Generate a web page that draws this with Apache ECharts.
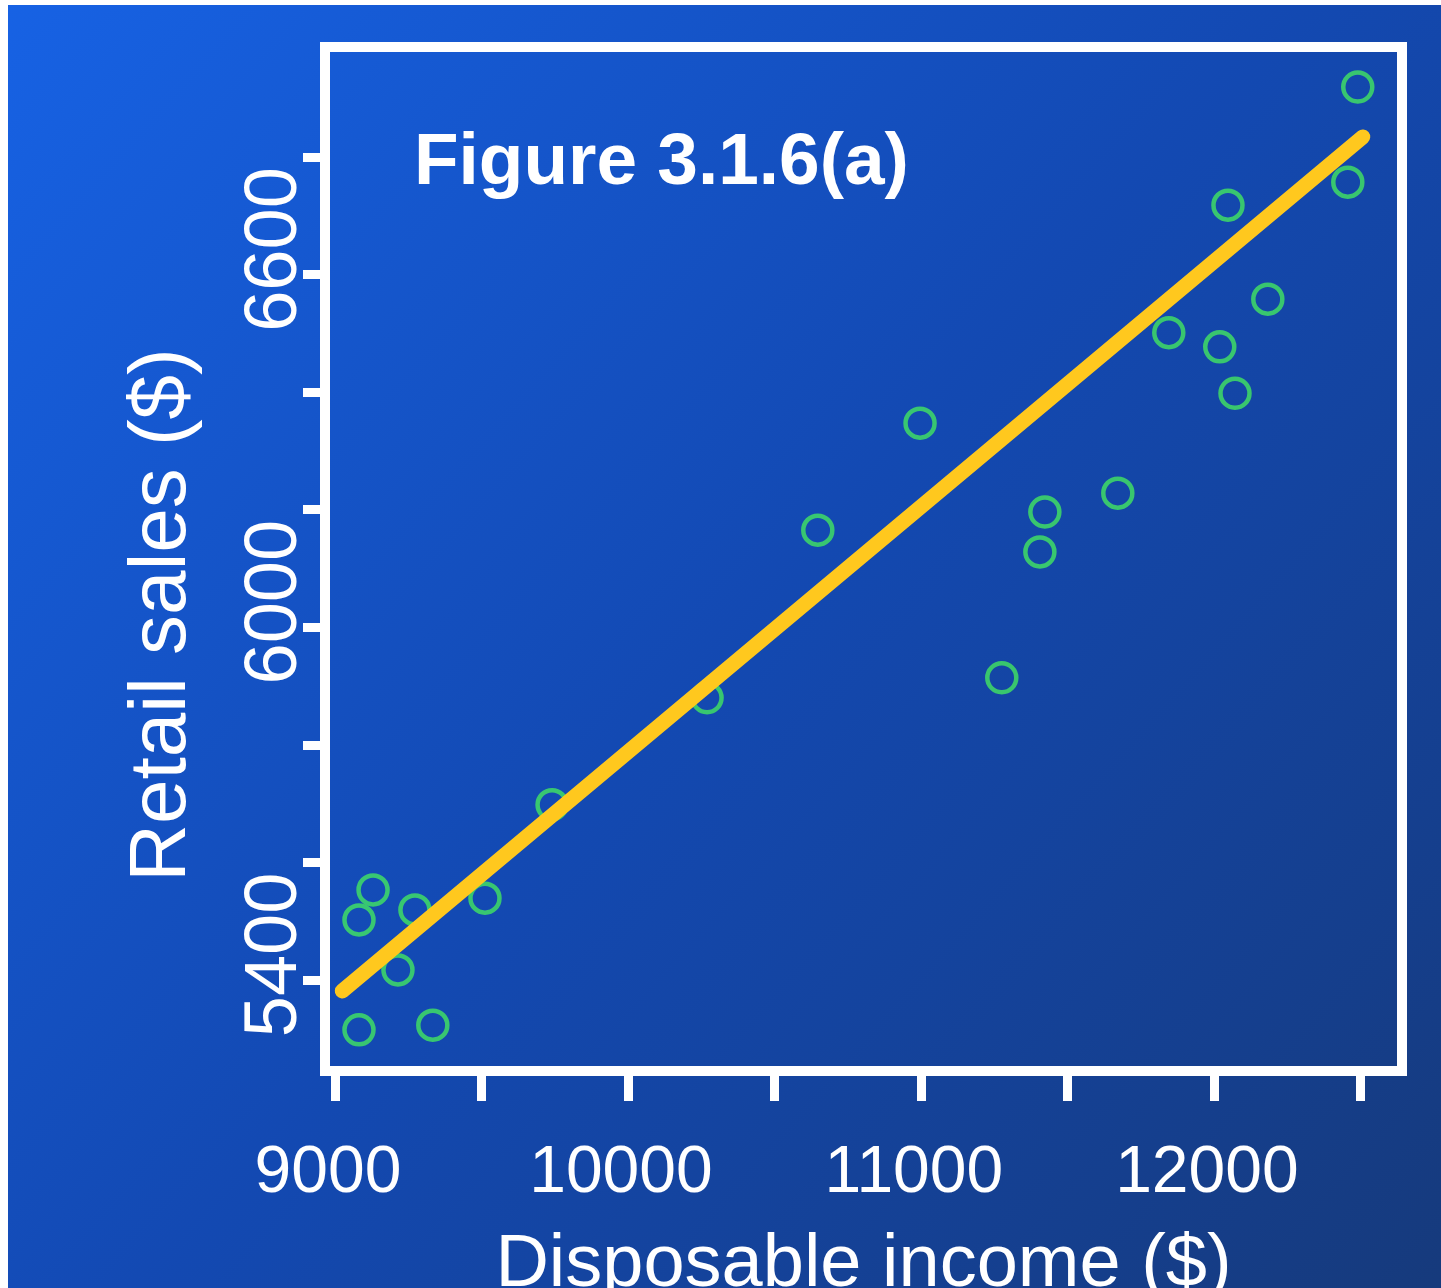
<!DOCTYPE html>
<html>
<head>
<meta charset="utf-8">
<script src="https://cdn.jsdelivr.net/npm/echarts@6/dist/echarts.min.js"></script>
<style>
  html, body { margin: 0; padding: 0; background: #ffffff; overflow: hidden; }
  #chart { position: absolute; left: 8px; top: 5px; width: 1433px; height: 1283px; }
</style>
</head>
<body>
<div id="chart"></div>
<script>
// Data
const incomeX = [12491, 12457, 12048, 12184, 11846, 12020, 12072, 10997, 11672, 11423, 10648,
                 11406, 11276, 10270, 9741, 9512, 9130, 9082, 9273, 9215, 9082, 9334];
const salesY  = [6919, 6757, 6718, 6558, 6501, 6477, 6398, 6347, 6228, 6196, 6165,
                 6128, 5914, 5880, 5698, 5539, 5553, 5502, 5519, 5417, 5315, 5323];
const fitX = [9025, 12508];
const fitY = [5381, 6834];
const xTicks = [9000, 9500, 10000, 10500, 11000, 11500, 12000, 12500];
const xTickLabels = [9000, 10000, 11000, 12000];
const yTicks = [5400, 5600, 5800, 6000, 6200, 6400, 6600, 6800];
const yTickLabels = [5400, 6000, 6600];
const titleText = 'Figure 3.1.6(a)';
const xName = 'Disposable income ($)';
const yName = 'Retail sales ($)';

const points = incomeX.map((x, i) => [x, salesY[i]]);
const fitLine = fitX.map((x, i) => [x, fitY[i]]);

const chart = echarts.init(document.getElementById('chart'), null, { renderer: 'canvas' });
chart.setOption({
  animation: false,
  backgroundColor: new echarts.graphic.LinearGradient(0, 0, 1, 1, [
    { offset: 0, color: '#1762e4' },
    { offset: 0.5, color: '#1349b2' },
    { offset: 1, color: '#163a7c' }
  ]),
  title: {
    text: titleText,
    left: 406,
    top: 122,
    padding: 0,
    textStyle: {
      color: '#ffffff',
      fontFamily: '"Liberation Sans", Arial, sans-serif',
      fontWeight: 'bold',
      fontSize: 73
    }
  },
  grid: {
    left: 317, right: 39, top: 42, bottom: 217,
    outerBoundsMode: 'none',
    containLabel: false,
    show: true,
    borderColor: '#ffffff',
    borderWidth: 10,
    backgroundColor: 'transparent'
  },
  xAxis: {
    type: 'value',
    min: 8966, max: 12642,
    name: xName,
    nameLocation: 'middle',
    nameGap: 158,
    nameTextStyle: {
      color: '#ffffff',
      fontFamily: '"Liberation Sans", Arial, sans-serif',
      fontSize: 74,
      verticalAlign: 'top'
    },
    splitLine: { show: false },
    axisLine: { show: false },
    axisTick: {
      show: true, length: 30, customValues: xTicks,
      lineStyle: { color: '#ffffff', width: 9 }
    },
    axisLabel: {
      customValues: xTickLabels,
      formatter: v => String(v),
      margin: 70,
      padding: [0, 14, 0, 0],
      color: '#ffffff',
      fontFamily: '"Liberation Sans", Arial, sans-serif',
      fontSize: 66
    }
  },
  yAxis: {
    type: 'value',
    min: 5245, max: 6987,
    name: yName,
    nameLocation: 'middle',
    nameGap: 122,
    nameRotate: 90,
    nameTextStyle: {
      color: '#ffffff',
      fontFamily: '"Liberation Sans", Arial, sans-serif',
      fontSize: 80,
      padding: [0, 112, 0, 0]
    },
    splitLine: { show: false },
    axisLine: { show: false },
    axisTick: {
      show: true, length: 22, customValues: yTicks,
      lineStyle: { color: '#ffffff', width: 9 }
    },
    axisLabel: {
      customValues: yTickLabels,
      formatter: v => String(v),
      rotate: 90,
      margin: 12,
      padding: [0, 0, 0, 50],
      color: '#ffffff',
      fontFamily: '"Liberation Sans", Arial, sans-serif',
      fontSize: 74
    }
  },
  series: [
    {
      type: 'scatter',
      data: points,
      symbol: 'circle',
      symbolSize: 29,
      itemStyle: { color: 'rgba(0,0,0,0)', borderColor: '#42e660', borderWidth: 4.5 },
      z: 2
    },
    {
      type: 'line',
      data: fitLine,
      symbol: 'none',
      lineStyle: { color: '#ffc81e', width: 15, cap: 'round' },
      z: 3
    }
  ]
});
</script>
</body>
</html>
